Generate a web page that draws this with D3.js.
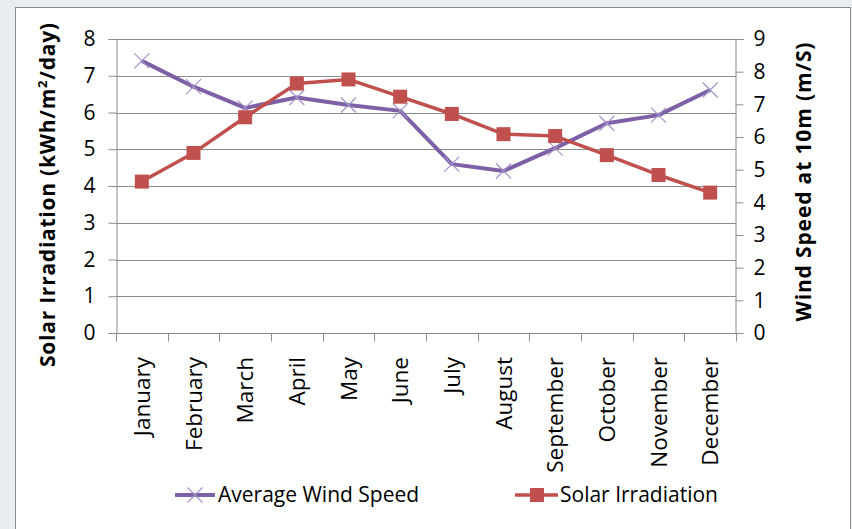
<!DOCTYPE html>
<html>
<head>
<meta charset="utf-8">
<script src="https://cdn.jsdelivr.net/npm/d3@7"></script>
<style>
  body { margin: 0; background: #e8edf0; }
  svg { display: block; }
  text { font-family: "Open Sans", sans-serif; fill: #000; }
</style>
</head>
<body>
<div id="chart"></div>
<script>
// data
var months = ["January", "February", "March", "April", "May", "June",
  "July", "August", "September", "October", "November", "December"]
var solar = [4.12, 4.9, 5.87, 6.79, 6.9, 6.43, 5.96, 5.41, 5.36, 4.84, 4.3, 3.82]
var wind = [8.33, 7.54, 6.89, 7.21, 6.98, 6.8, 5.17, 4.96, 5.66, 6.42, 6.67, 7.44]
var leftTicks = [0, 1, 2, 3, 4, 5, 6, 7, 8]
var rightTicks = [0, 1, 2, 3, 4, 5, 6, 7, 8, 9]

var width = 852, height = 529
var plot = {left: 116, right: 736, top: 39, bottom: 333}

var purple = "#7d60a6", red = "#c0504d", grid = "#8c8c8c"

var svg = d3.select("#chart").append("svg")
  .attr("width", width)
  .attr("height", height)

// chart box
svg.append("rect")
  .attr("x", 15.5).attr("y", 7.5)
  .attr("width", 835).attr("height", 530)
  .attr("fill", "white")
  .attr("stroke", "#8a8a8a")

var x = d3.scaleBand().domain(months).range([plot.left, plot.right])
var yL = d3.scaleLinear().domain([0, 8]).range([plot.bottom, plot.top])
var yR = d3.scaleLinear().domain([0, 9]).range([plot.bottom, plot.top])

// gridlines
svg.append("g").selectAll("line")
  .data(leftTicks.slice(1))
  .enter().append("line")
  .attr("x1", plot.left).attr("x2", plot.right)
  .attr("y1", function(d) { return Math.round(yL(d)) + 0.5 })
  .attr("y2", function(d) { return Math.round(yL(d)) + 0.5 })
  .attr("stroke", grid)

// left axis
var left = svg.append("g")
  .attr("transform", "translate(" + (plot.left + 0.5) + ",0)")
  .call(d3.axisLeft(yL).tickValues(leftTicks).tickSize(8).tickPadding(13))
left.selectAll(".domain").attr("stroke", grid)
left.selectAll("line").attr("stroke", grid)
left.selectAll("text").attr("font-size", 21).attr("font-family", "Open Sans").attr("fill", "#000")

// right axis
var right = svg.append("g")
  .attr("transform", "translate(" + (plot.right - 0.5) + ",0)")
  .call(d3.axisRight(yR).tickValues(rightTicks).tickSize(8).tickPadding(10))
right.selectAll(".domain").attr("stroke", grid)
right.selectAll("line").attr("stroke", grid)
right.selectAll("text").attr("font-size", 21).attr("font-family", "Open Sans").attr("fill", "#000")

// bottom axis
var bottom = svg.append("g")
  .attr("transform", "translate(0," + (plot.bottom + 0.5) + ")")
bottom.append("line")
  .attr("x1", plot.left).attr("x2", plot.right)
  .attr("stroke", grid)
bottom.selectAll(".tk")
  .data(d3.range(months.length + 1))
  .enter().append("line")
  .attr("x1", function(i) { return Math.round(plot.left + i * x.step()) + 0.5 })
  .attr("x2", function(i) { return Math.round(plot.left + i * x.step()) + 0.5 })
  .attr("y1", 0).attr("y2", 8)
  .attr("stroke", grid)
bottom.selectAll(".lab")
  .data(months)
  .enter().append("text")
  .attr("transform", function(d) {
    return "translate(" + (x(d) + x.bandwidth() / 2 + 8) + ",23.5) rotate(-90)"
  })
  .attr("text-anchor", "end")
  .attr("font-size", 22.5)
  .text(function(d) { return d })

// axis titles
svg.append("text")
  .attr("transform", "translate(55,195) rotate(-90)")
  .attr("text-anchor", "middle")
  .attr("font-size", 21)
  .attr("font-weight", "bold")
  .attr("textLength", 344)
  .attr("lengthAdjust", "spacing")
  .html("Solar Irradiation (kWh/m<tspan font-size='13' dy='-8'>2</tspan><tspan dy='8'>/day)</tspan>")

svg.append("text")
  .attr("transform", "translate(811,182) rotate(-90)")
  .attr("text-anchor", "middle")
  .attr("font-size", 21)
  .attr("font-weight", "bold")
  .attr("textLength", 279)
  .attr("lengthAdjust", "spacing")
  .text("Wind Speed at 10m (m/S)")

// lines
var cx = function(d, i) { return x(months[i]) + x.bandwidth() / 2 }

var windLine = d3.line()
  .x(cx)
  .y(function(d) { return yR(d) })
var solarLine = d3.line()
  .x(cx)
  .y(function(d) { return yL(d) })

svg.append("path")
  .datum(wind)
  .attr("d", windLine)
  .attr("fill", "none")
  .attr("stroke", purple)
  .attr("stroke-width", 4)
  .attr("stroke-linejoin", "round")

function xMark(sel) {
  sel.append("path")
    .attr("d", "M-7.5,-7.5L7.5,7.5M-7.5,7.5L7.5,-7.5")
    .attr("stroke", "#a393c9")
    .attr("stroke-width", 1.2)
    .attr("fill", "none")
}

svg.append("g").selectAll("g")
  .data(wind)
  .enter().append("g")
  .attr("transform", function(d, i) { return "translate(" + cx(d, i) + "," + yR(d) + ")" })
  .call(xMark)

svg.append("path")
  .datum(solar)
  .attr("d", solarLine)
  .attr("fill", "none")
  .attr("stroke", red)
  .attr("stroke-width", 3.5)
  .attr("stroke-linejoin", "round")

svg.append("g").selectAll("rect")
  .data(solar)
  .enter().append("rect")
  .attr("x", function(d, i) { return cx(d, i) - 7 })
  .attr("y", function(d) { return yL(d) - 7 })
  .attr("width", 14).attr("height", 14)
  .attr("fill", red)

// legend
var legend = svg.append("g").attr("transform", "translate(0,495)")
var lw = legend.append("g").attr("transform", "translate(175,0)")
lw.append("line").attr("x1", 0).attr("x2", 40)
  .attr("stroke", purple).attr("stroke-width", 4)
lw.append("g").attr("transform", "translate(20,0)").call(xMark)
lw.append("text").attr("x", 43).attr("dy", "0.35em").attr("font-size", 21)
  .text("Average Wind Speed")

var ls = legend.append("g").attr("transform", "translate(515,0)")
ls.append("line").attr("x1", 0).attr("x2", 43)
  .attr("stroke", red).attr("stroke-width", 3.5)
ls.append("rect").attr("x", 15).attr("y", -7).attr("width", 14).attr("height", 14)
  .attr("fill", red)
ls.append("text").attr("x", 45).attr("dy", "0.35em").attr("font-size", 21)
  .text("Solar Irradiation")
</script>
</body>
</html>
